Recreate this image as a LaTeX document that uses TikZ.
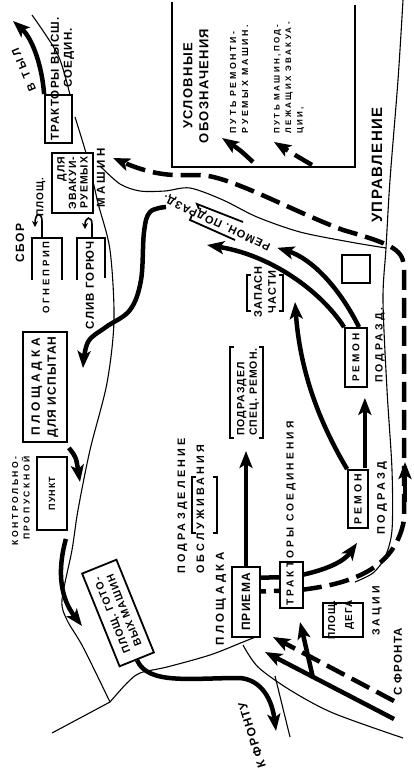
\documentclass[tikz,border=0pt]{standalone}
\usepackage{fontspec}
\newfontfamily\rufont[LetterSpace=10]{Liberation Sans}
\newfontfamily\ruwide[LetterSpace=30]{Liberation Sans}
\usetikzlibrary{arrows.meta, calc, backgrounds}

\tikzset{
  txt/.style={inner sep=0pt, align=center},
  lbl/.style={txt, rotate=90},
  rf/.style 2 args={font=\rufont\bfseries\fontsize{#1}{#2}\selectfont},
  wf/.style 2 args={font=\ruwide\bfseries\fontsize{#1}{#2}\selectfont},
  box/.style={draw, line width=1.8pt, fill=white, inner sep=0pt},
  brk/.style={line width=1.8pt},
  road/.style={line width=1.1pt},
  route/.style={line width=4.5pt, -{Stealth[length=17pt,width=13pt,inset=4pt]}},
  evac/.style={route, dash pattern=on 20pt off 8pt},
  hook/.style={line width=1.6pt, -{Stealth[length=6pt,width=6pt]}},
}

\begin{document}
\begin{tikzpicture}[x=1pt, y=-1pt]
  \useasboundingbox (0,0) rectangle (414,773);

  % legend
  \draw[brk] (172,2) |- (355,167) -- (355,5);
  \node[lbl, rf={13}{16}] (legtitle) at (196,86) {УСЛОВНЫЕ\\ОБОЗНАЧЕНИЯ};
  \node[lbl, wf={8.8}{12}, align=left] (legsolid) at (239,79) {ПУТЬ РЕМОНТИ-\\РУЕМЫХ МАШИН.};
  \node[lbl, wf={8}{11.5}, align=left] (legdash) at (289,78) {ПУТЬ МАШИН,ПОД-\\ЛЕЖАЩИХ ЭВАКУА-\\ЦИИ,};
  \coordinate (ls1) at (253,162); \coordinate (ls2) at (222,138);
  \coordinate (ld1) at (312,165); \coordinate (ld2) at (274,142);

  \node[lbl, rf={15}{18}] (upr) at (377,165) {УПРАВЛЕНИЕ};

  % rear area
  \node[txt, wf={11}{13}, rotate=113] (tyl) at (24,70) {В ТЫЛ};
  \node[box, rotate=90, minimum width=48, minimum height=27] (trak) at (58.5,119) {};
  \node[lbl, rf={11.5}{13}, anchor=west] (trakt) at (55,141) {ТРАКТОРЫ ВЫСШ.};
  \node[lbl, rf={11.5}{13}, anchor=west] (soed) at (69,88) {СОЕДИН.};
  \node[lbl, rf={10}{12}] (plosch) at (41,197) {ПЛОЩ.};
  \node[box, lbl, rf={10.5}{11.5}, minimum width=60, minimum height=41, align=right] (evac) at (72.5,183) {ДЛЯ\\ЭВАКУИ-\\РУЕМЫХ};
  \node[lbl, wf={11.5}{13}] (mash) at (101,178) {МАШИН};
  \coordinate (evend) at (113,158);

  \node[lbl, rf={12}{14}] (sbor) at (20,243) {СБОР};
  \draw[brk] (32,280) |- (62,238) -- (62,280);
  \node[lbl, wf={9.5}{12}, anchor=east] (ogne) at (46,241) {ОГНЕПРИП};
  \draw[brk] (77,280) |- (105,238) -- (105,278);
  \node[lbl, rf={11.5}{13}, anchor=east] (sliv) at (90,241) {СЛИВ ГОРЮЧ};

  \node[box, lbl, rf={12}{16}, minimum width=110, minimum height=44] (isp) at (45,387) {{\ruwide ПЛОЩАДКА}\\ДЛЯ ИСПЫТАН};
  \node[lbl, wf={8.6}{11.5}, align=right, anchor=east] (kpp) at (21,456) {КОНТРОЛЬНО-\\ПРОПУСКНОЙ};
  \node[box, lbl, rf={9}{11}, minimum width=73, minimum height=30] (punkt) at (52,493.5) {ПУНКТ};
  \node[box, txt, rf={10.5}{13}, rotate=112, minimum width=100, minimum height=37] (gotov) at (118,613) {ПЛОЩ. ГОТО-\\ВЫХ МАШИН};

  % units
  \node[lbl, wf={10.8}{19}, align=left] (obsl) at (191,506) {ПОДРАЗДЕЛЕНИЕ\\ОБСЛУЖИВАНИЯ};
  \draw[brk] (196,477) -| (192,533) -- (196,533);
  \draw[brk] (213,477) -| (217,533) -- (213,533);
  \node[lbl, rf={10.5}{12.5}, align=left] (spec) at (248,392) {ПОДРАЗДЕЛ\\СПЕЦ. РЕМОН.};
  \draw[brk] (234,347) -| (230,438) -- (234,438);
  \draw[brk] (259,347) -| (263,438) -- (259,438);

  \node[lbl, wf={11.5}{13}] (plpr) at (221,599) {ПЛОЩАДКА};
  \node[box, lbl, rf={12}{14}, minimum width=70, minimum height=28] (priema) at (246,602) {ПРИЕМА};
  \node[box, rotate=90, minimum width=46, minimum height=23] (trsoed) at (291.5,585) {};
  \node[lbl, wf={10.2}{12}, anchor=west] (trsoedt) at (291,606) {ТРАКТОРЫ СОЕДИНЕНИЯ};

  \node[box, lbl, wf={10.5}{12}, minimum width=58, minimum height=20] (rem1) at (358,499) {РЕМОН};
  \node[lbl, wf={11}{12}] (pod1) at (382,498) {ПОДРАЗД};
  \node[box, lbl, wf={10}{12}, minimum width=59, minimum height=22] (rem2) at (356,357.5) {РЕМОН};
  \node[lbl, wf={10.5}{12}] (pod2) at (380,345) {ПОДРАЗД.};
  \node[box, minimum size=28] (sq) at (356,269) {};
  \node[lbl, rf={11}{14}] (zap) at (265,292) {ЗАПАСН\\ЧАСТИ};
  \draw[brk] (251,275) -| (247,311) -- (251,311);
  \draw[brk] (279,275) -| (283,311) -- (279,311);
  \node[txt, rf={11}{13}, rotate=155] (rempod) at (217,222) {РЕМОН. ПОДРАЗД.};
  \draw[brk] (199,209) -- (197,204) -- (243,222);
  \draw[brk] (192,215) -- (190,220) -- (235,240);

  % front side
  \node[box, minimum width=40, minimum height=34] (degbox) at (343,620) {};
  \node[lbl, rf={10}{17}, align=right] (deg) at (341,620) {ПЛОЩ.\\ДЕГА};
  \node[lbl, wf={10.5}{12}] (zac) at (377,611) {ЗАЦИИ};
  \node[lbl, rf={11.5}{13}] (sfr) at (398,662) {С ФРОНТА};
  \node[txt, rf={12}{14}, rotate=107] (kfr) at (252,735) {К ФРОНТУ};

  \begin{scope}[on background layer]
    % roads
    \draw[road] plot[smooth] coordinates {(32,15) (58,55) (70,95)};
    \draw[road] plot[smooth] coordinates {(75,117) (88,160) (98,203) (110,250) (114,320) (107,383) (90,450) (78,510) (72,550) (62,600) (67,620) (83,647) (110,702)};
    \draw[road] (110,702) -- (52,733);
    \draw[road] plot[smooth] coordinates {(110,702) (127,683) (140,673) (167,667) (210,655) (243,642) (258,636)};
    \draw[road] plot[smooth] coordinates {(243,645) (258,667) (290,690) (333,713) (403,738)};
    \draw[road] (275,676) -- (290,737);
    \draw[road] plot[smooth] coordinates {(100,166) (120,184) (140,191) (165,191) (190,188) (223,200) (257,217) (300,232) (350,242) (386,248)};
    \draw[road] plot[smooth] coordinates {(403,0) (398,80) (390,180) (386,248) (383,300) (387,390) (392,470) (392,530) (385,557) (373,573) (355,582)};

    % repair routes
    \draw[route] (ls1) .. controls (240,150) .. (ls2);
    \draw[evac] (ld1) .. controls (295,155) .. (ld2);
    \draw[route] (trak.north east) .. controls (42,65) and (32,38) .. (13,21);
    \draw[route] plot[smooth, tension=0.6] coordinates {(166,207) (150,212) (144,232) (141,280) (130,310) (106,327) (88,342) (83,368)};
    \draw[route] ($(isp.south west)+(1,5)$) .. controls (76,457) .. (80,482);
    \draw[route] ($(punkt.south west)+(-2,8)$) .. controls (56,575) and (62,600) .. (82,626);
    \draw[route] (gotov.west) .. controls (148,685) and (190,678) .. (240,678) .. controls (262,680) and (272,700) .. (276,731);
    \draw[route] (priema.east) -- ($(spec.west)+(-2,15)$);
    \draw[route] ($(priema.center)+(0,-24)$) -- ($(trsoed.center)+(0,-8)$) .. controls (330,570) and (345,560) .. ($(rem1.west)+(-1,14)$);
    \draw[route] ($(rem1.south east)+(-4,-1)$) -- ($(rem2.south west)+(-3,10)$);
    \draw[route] (rem1.north east) .. controls (318,420) and (300,370) .. (295,302);
    \draw[route] (rem2.north east) .. controls (320,290) and (270,255) .. (207,245);
    \draw[route] ($(rem2.east)+(3,0)$) .. controls (338,285) and (310,258) .. ($(rempod.west)+(7,1)$);

    % evacuation routes
    \draw[evac] ($(priema.center)+(0,-10)$) -- (300,590) .. controls (350,584) and (395,570) .. (404,520) -- (404,270) .. controls (404,250) and (395,245) .. (343,230) .. controls (290,210) and (230,176) .. (200,175) .. controls (180,175) and (160,178) .. (evend);
    \draw[route] (405,502) -- (405,462);
    \draw[evac] (394,701) -- (273,637);
    \draw[route] (394,719) -- (265,652);
    \draw[route] (313,678) .. controls (308,655) .. (300,622);

    % small turns at the collecting points
    \draw[hook] (42,238) -- (42,221) .. controls (42,212) and (35,212) .. (35,227);
    \draw[hook] (92,238) -- (92,224) .. controls (92,216) and (85,216) .. (85,229);
  \end{scope}
\end{tikzpicture}
\end{document}
